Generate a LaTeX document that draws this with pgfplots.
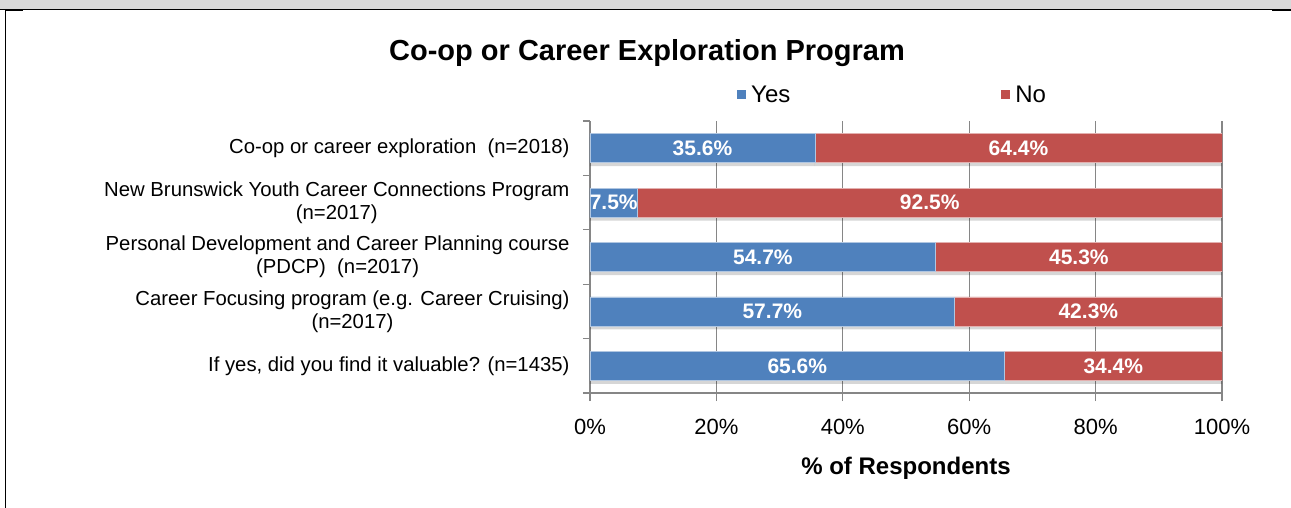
\documentclass[border=0pt]{standalone}
\usepackage{pgfplots}
\pgfplotsset{compat=1.18}
\usepackage{fontspec}
\setmainfont{Liberation Sans}
\definecolor{yesblue}{HTML}{4F81BD}
\definecolor{nored}{HTML}{C0504D}
\definecolor{axisgray}{HTML}{868686}
\definecolor{bandgray}{HTML}{D9D9D9}

\begin{document}
\begin{tikzpicture}[x=1pt,y=1pt]
% page frame (table cell)
\fill[white] (0,0) rectangle (1291,508);
\fill[bandgray] (0,499) rectangle (1291,508);
\draw[black, line width=1.3pt] (0,498.8) -- (1272,498.8);
\draw[black, line width=2.2pt] (1272,498.3) -- (1291,498.3);
\draw[black, line width=1.5pt] (5.5,0) -- (5.5,499.4);
\draw[black, line width=2pt] (5.5,498) -- (23,498);

\begin{axis}[
  at={(590pt,115pt)}, anchor=south west,
  scale only axis, width=632pt, height=272pt,
  xbar stacked, bar width=29pt,
  xmin=0, xmax=100, ymin=-0.5, ymax=4.5, y dir=reverse,
  axis lines*=left,
  axis line style={axisgray, line width=1.2pt},
  tick align=outside, major tick length=8pt, minor tick length=7pt,
  tick style={axisgray, line width=1.2pt},
  xtick={0,20,...,100},
  xticklabel={\pgfmathprintnumber{\tick}\%},
  xmajorgrids, grid style={axisgray, line width=1.2pt},
  ytick={0,1,2,3,4},
  minor ytick={-0.5,0.5,...,4.5},
  major y tick style={draw=none},
  yticklabels={
    {Co-op or career exploration\ \ (n=2018)},
    {New Brunswick Youth Career Connections Program\\(n=2017)},
    {Personal Development and Career Planning course\\(PDCP)\ \ (n=2017)},
    {Career Focusing program (e.g. Career Cruising)\\(n=2017)},
    {If yes, did you find it valuable? (n=1435)}},
  yticklabel style={align=center, xshift=-9pt, font=\fontsize{20.3}{23}\selectfont},
  xticklabel style={yshift=-15pt, font=\fontsize{22}{26}\selectfont},
  /pgf/number format/assume math mode=true,
  title={Co-op or Career Exploration Program},
  title style={font=\bfseries\fontsize{29}{34}\selectfont,
    at={(axis description cs:0.0902,1.200)}, anchor=base},
  xlabel={\% of Respondents},
  xlabel style={font=\bfseries\fontsize{24}{28}\selectfont,
    at={(axis description cs:0.5,-0.298)}, anchor=base},
  legend style={draw=none, fill=none, inner sep=0pt,
    at={(axis description cs:0.2326,1.0974)}, anchor=west,
    font=\fontsize{24}{28}\selectfont,
    nodes={inner xsep=5pt},
    legend columns=2,
    /tikz/every even column/.append style={column sep=206pt}},
  point meta=rawx,
  nodes near coords={\pgfmathprintnumber[fixed,fixed zerofill,precision=1]{\pgfplotspointmeta}\%},
  every node near coord/.append style={anchor=center, text=white,
    font=\bfseries\fontsize{21}{24}\selectfont},
  every axis plot/.append style={preaction={draw=none, fill=black, fill opacity=0.16,
    transform canvas={yshift=-3.5pt}}},
]
\addplot[fill=yesblue, draw=white!55!yesblue, line width=0.8pt,
  legend image code/.code={\pgfpathrectangle{\pgfpoint{0pt}{-4.5pt}}{\pgfpoint{9pt}{9pt}}%
    \pgfsetfillcolor{yesblue}\pgfusepath{fill}}]
  coordinates {(35.6,0) (7.5,1) (54.7,2) (57.7,3) (65.6,4)};
\addplot[fill=nored, draw=white!55!nored, line width=0.8pt,
  legend image code/.code={\pgfpathrectangle{\pgfpoint{0pt}{-4.5pt}}{\pgfpoint{9pt}{9pt}}%
    \pgfsetfillcolor{nored}\pgfusepath{fill}}]
  coordinates {(64.4,0) (92.5,1) (45.3,2) (42.3,3) (34.4,4)};
\legend{Yes,No}
\end{axis}
\pgfresetboundingbox
\useasboundingbox (0,0) rectangle (1291,508);
\end{tikzpicture}
\end{document}
